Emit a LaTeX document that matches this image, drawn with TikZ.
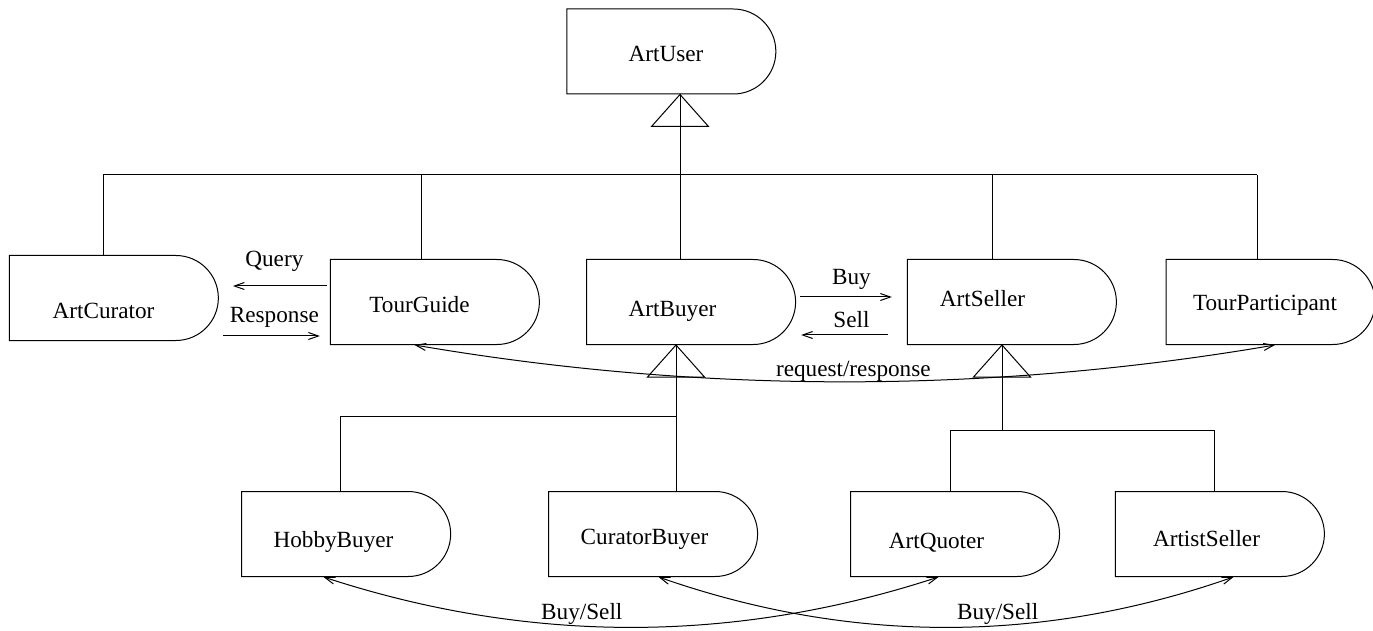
\documentclass[tikz,border=0pt]{standalone}
\usepackage{fontspec}
\setmainfont{Liberation Serif}
\usetikzlibrary{shapes.misc,arrows.meta}

% name of a role, moved inside its box
\newcommand{\rolename}[3]{\hspace*{#1pt}\raisebox{-#2pt}[\height][\depth]{#3}}

\begin{document}
\begin{tikzpicture}[
  x=0.5pt, y=-0.5pt,
  font=\fontsize{11.6}{14}\selectfont,
  agent/.style={draw, rounded rectangle, rounded rectangle left arc=none,
    minimum width=104.5pt, minimum height=42.5pt, inner sep=0pt, line width=0.5pt},
  isa/.style={line width=0.5pt},
  msg/.style={line width=0.5pt, -{Straight Barb[length=5pt,width=3.5pt]}},
  msgboth/.style={line width=0.5pt,
    {Straight Barb[length=5pt,width=3.5pt]}-{Straight Barb[length=5pt,width=3.5pt]}}
]
  \useasboundingbox (0,0) rectangle (1373,631);

  % Agent roles
  \node[agent] (user) at (671,51.5) {\rolename{-5}{1}{ArtUser}};
  \node[agent] (curator) at (113.5,298) {\rolename{-10}{6.5}{ArtCurator}};
  \node[agent] (guide) at (434.5,302) {\rolename{-15}{1.5}{TourGuide}};
  \node[agent] (buyer) at (690.5,302) {\rolename{-18}{4.5}{ArtBuyer}};
  \node[agent] (seller) at (1011.5,302) {\rolename{-29}{-1.5}{ArtSeller}};
  \node[agent] (participant) at (1270,302) {\rolename{-5}{1.5}{TourParticipant}};
  \node[agent] (hobby) at (345.5,534) {\rolename{-12}{4}{HobbyBuyer}};
  \node[agent] (curbuyer) at (652.5,534) {\rolename{-8}{2.5}{CuratorBuyer}};
  \node[agent] (quoter) at (954.5,534) {\rolename{-18}{4.5}{ArtQuoter}};
  \node[agent] (artist) at (1219.5,534) {\rolename{-13}{2.5}{ArtistSeller}};

  % Junctions of the role tree
  \coordinate (jCur) at (103,175);
  \coordinate (jGuide) at (421,175);
  \coordinate (jUser) at (680,175);
  \coordinate (jSel) at (992,175);
  \coordinate (jPart) at (1257,175);
  \coordinate (jHob) at (340,416);
  \coordinate (jBuy) at (676,416);
  \coordinate (jQuo) at (950,430);
  \coordinate (jSel2) at (1002,430);
  \coordinate (jArt) at (1214,430);

  % Specialisation of ArtUser
  \draw[isa] (jCur) -- (jPart);
  \foreach \n/\j in {curator/jCur, guide/jGuide, seller/jSel, participant/jPart}
    \draw[isa] (\j) -- (\n.north -| \j);
  \draw[isa] (buyer.north -| jUser) -- (user.south -| jUser);
  \draw[isa] (user.south -| jUser) -- ++(-28.5,32) -- ++(57,0) -- cycle;

  % Specialisation of ArtBuyer
  \draw[isa] (jHob) -- (jBuy);
  \draw[isa] (jHob) -- (hobby.north -| jHob);
  \draw[isa] (buyer.south -| jBuy) -- (curbuyer.north -| jBuy);
  \draw[isa] (buyer.south -| jBuy) -- ++(-28.5,32) -- ++(57,0) -- cycle;

  % Specialisation of ArtSeller
  \draw[isa] (jQuo) -- (jArt);
  \draw[isa] (seller.south -| jSel2) -- (jSel2);
  \draw[isa] (jQuo) -- (quoter.north -| jQuo);
  \draw[isa] (jArt) -- (artist.north -| jArt);
  \draw[isa] (seller.south -| jSel2) -- ++(-28.5,32) -- ++(57,0) -- cycle;

  % Messages
  \draw[msg, shorten <=1.5pt, shorten >=7pt] ([yshift=8pt]guide.west)
    -- ([yshift=8pt]guide.west -| curator.east) node[midway, above=3.5pt] {Query};
  \draw[msg, shorten <=2pt, shorten >=5pt] ([yshift=-19pt]curator.east)
    -- ([yshift=-19pt]curator.east -| guide.west) node[midway, above=0.5pt] {Response};
  \draw[msg, shorten <=2pt, shorten >=7.5pt] ([yshift=2.5pt]buyer.east)
    -- ([yshift=2.5pt]buyer.east -| seller.west) node[midway, above=0pt] {Buy};
  \draw[msg, shorten <=9.5pt, shorten >=2.5pt] ([yshift=-16.5pt]seller.west)
    -- ([yshift=-16.5pt]seller.west -| buyer.east) node[midway, above=0pt] {Sell};

  \draw[msgboth] ([xshift=-10pt]guide.south) .. controls +(287,49) and +(-287,49)
    .. ([xshift=2.5pt]participant.south) node[pos=0.51, above=-3.5pt] {request/response};
  \draw[msgboth] ([xshift=-11pt]hobby.south) .. controls +(205,67) and +(-205,67)
    .. ([xshift=-8pt]quoter.south) node[pos=0.42, above=-3pt] {Buy/Sell};
  \draw[msgboth] ([xshift=3pt]curbuyer.south) .. controls +(192,67) and +(-192,67)
    .. ([xshift=7pt]artist.south) node[pos=0.59, above=-3pt] {Buy/Sell};

\end{tikzpicture}
\end{document}
